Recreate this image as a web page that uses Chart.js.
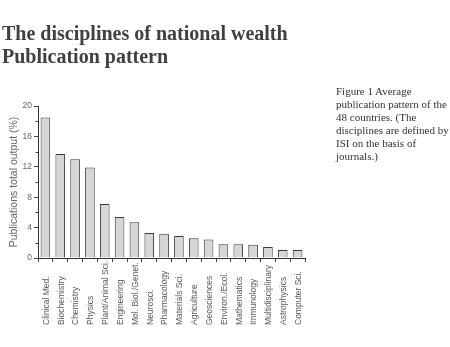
<!DOCTYPE html>
<html>
<head>
<meta charset="utf-8">
<script src="https://cdn.jsdelivr.net/npm/chart.js@4"></script>
<style>
  html, body { margin: 0; padding: 0; background: #fff; width: 450px; height: 347px; overflow: hidden; }
  #wrap { position: relative; width: 450px; height: 347px; }
  #wrap canvas { position: absolute; left: 0; top: 0; }
  .heading {
    position: absolute; left: 2px; top: 22px;
    font: bold 20px "Liberation Serif", "Times New Roman", serif;
    line-height: 23px; color: #404040; white-space: nowrap;
  }
  .caption {
    position: absolute; left: 336px; top: 85px;
    font: 11px "Liberation Serif", "Times New Roman", serif;
    line-height: 13px; color: #333; white-space: nowrap;
  }
</style>
</head>
<body>
<div id="wrap">
  <canvas id="chart" width="450" height="347"></canvas>
  <div class="heading">The disciplines of national wealth<br>Publication pattern</div>
  <div class="caption">Figure 1 Average<br>publication pattern of the<br>48 countries. (The<br>disciplines are defined by<br>ISI on the basis of<br>journals.)</div>
</div>
<script>
// disciplines, left to right
const categories = ['Clinical Med.', 'Biochemistry', 'Chemistry', 'Physics', 'Plant/Animal Sci.',
  'Engineering', 'Mol. Biol./Genet.', 'Neurosci.', 'Pharmacology', 'Materials Sci.', 'Agriculture',
  'Geosciences', 'Environ./Ecol.', 'Mathematics', 'Immunology', 'Multidisciplinary',
  'Astrophysics', 'Computer Sci.'];
// share of total publications (%)
const shares = [18.5, 13.7, 13.0, 11.9, 7.1, 5.4, 4.7, 3.3, 3.2, 2.9, 2.6, 2.45, 1.8, 1.8, 1.75, 1.45, 1.05, 1.05];
// labelled y ticks
const yTicks = [0, 4, 8, 12, 16, 20];

const sansFamily = '"Liberation Sans", Arial, sans-serif';
const isMajor = v => yTicks.includes(v);

// short minor ticks on the y axis, and category labels set from the bottom up
const axisExtras = {
  id: 'axisExtras',
  afterDraw(chart) {
    const { ctx, scales: { x, y } } = chart;
    ctx.save();
    ctx.strokeStyle = '#444';
    ctx.lineWidth = 1;
    y.ticks.forEach(t => {
      if (isMajor(t.value)) return;
      const py = Math.round(y.getPixelForValue(t.value)) + 0.5;
      ctx.beginPath();
      ctx.moveTo(x.left - 2.5, py);
      ctx.lineTo(x.left, py);
      ctx.stroke();
    });

    ctx.fillStyle = '#5a5a5a';
    ctx.font = '8.5px ' + sansFamily;
    ctx.textAlign = 'left';
    ctx.textBaseline = 'middle';
    categories.forEach((label, i) => {
      ctx.save();
      ctx.translate(x.getPixelForValue(i) + 1, 325);
      ctx.rotate(-Math.PI / 2);
      ctx.fillText(label, 0, 0);
      ctx.restore();
    });
    ctx.restore();
  }
};

new Chart(document.getElementById('chart'), {
  type: 'bar',
  data: {
    labels: categories,
    datasets: [{
      data: shares,
      backgroundColor: '#d6d6d6',
      borderColor: '#3a3a3a',
      borderWidth: 1,
      barPercentage: 0.65,
      categoryPercentage: 1.0
    }]
  },
  options: {
    responsive: false,
    animation: false,
    devicePixelRatio: 1,
    layout: { padding: { top: 106, right: 145, bottom: 85, left: 0 } },
    plugins: { legend: { display: false }, tooltip: { enabled: false } },
    scales: {
      x: {
        afterFit: s => { s.height = 4; },
        border: { color: '#333', width: 1 },
        grid: { drawOnChartArea: false, offset: true, tickLength: 4, tickColor: '#444' },
        ticks: { display: false }
      },
      y: {
        min: 0,
        max: 20,
        afterFit: s => { s.width = 38; },
        border: { color: '#333', width: 1 },
        grid: {
          drawOnChartArea: false,
          tickLength: 4,
          tickColor: c => isMajor(c.tick.value) ? '#444' : 'rgba(0,0,0,0)'
        },
        ticks: {
          stepSize: 2,
          padding: 2,
          color: '#666',
          font: { size: 8.5, family: sansFamily },
          callback: v => isMajor(v) ? v : ''
        },
        title: {
          display: true,
          text: 'Publications total output (%)',
          color: '#666',
          font: { size: 10.5, family: sansFamily },
          padding: { top: 8, bottom: 0 }
        }
      }
    }
  },
  plugins: [axisExtras]
});
</script>
</body>
</html>
